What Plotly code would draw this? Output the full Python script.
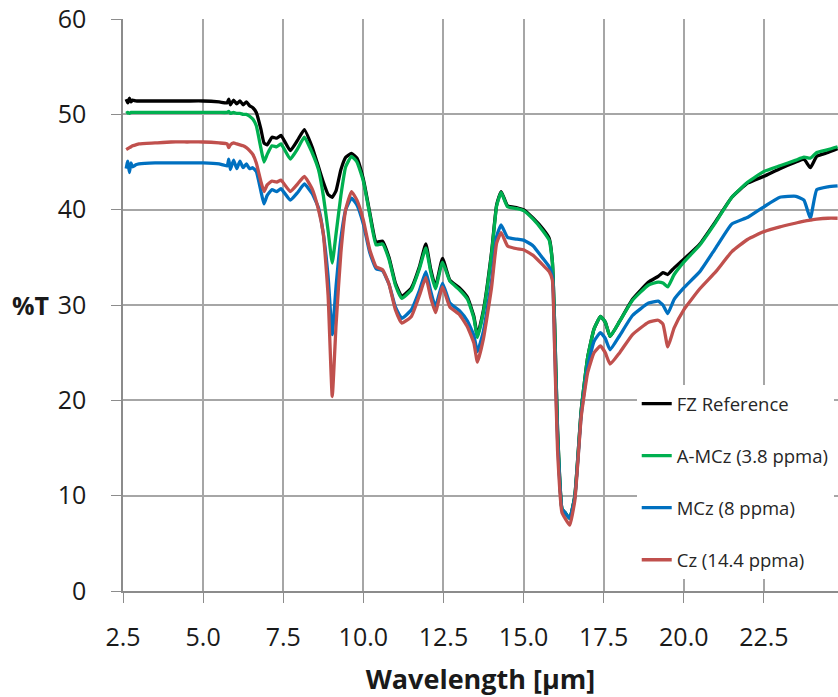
import plotly.graph_objects as go

wavelength = [2.6, 2.65, 2.7, 2.75, 2.8, 2.9, 3.0, 3.5, 4.0, 4.5, 5.0, 5.5, 5.75, 5.8, 5.85, 5.95,
              6.05, 6.15, 6.25, 6.35, 6.45, 6.55, 6.66, 6.8, 6.9, 7.0, 7.15, 7.3, 7.43, 7.72, 7.95,
              8.16, 8.4, 8.6, 8.75, 8.9, 9.03, 9.15, 9.3, 9.45, 9.63, 9.8, 10.0, 10.2, 10.4, 10.6,
              10.8, 11.0, 11.2, 11.5, 11.75, 11.95, 12.1, 12.25, 12.47, 12.7, 13.0, 13.25, 13.45,
              13.56, 13.75, 14.0, 14.16, 14.3, 14.5, 14.8, 15.0, 15.3, 15.6, 15.8, 15.9, 15.97,
              16.06, 16.2, 16.3, 16.44, 16.6, 16.8, 17.0, 17.2, 17.4, 17.55, 17.7, 18.0, 18.4,
              18.9, 19.2, 19.35, 19.5, 19.7, 20.0, 20.5, 21.0, 21.5, 22.0, 22.5, 23.0, 23.5,
              23.75, 23.95, 24.15, 24.5, 24.8]

fz_reference = [51.6, 51.2, 51.7, 51.3, 51.5, 51.4, 51.4, 51.4, 51.4, 51.4, 51.4, 51.3, 51.2, 51.6,
                51.0, 51.5, 51.1, 51.4, 51.0, 51.3, 50.9, 50.7, 50.2, 48.5, 47.0, 46.8, 47.6, 47.5,
                47.8, 46.2, 47.3, 48.4, 46.6, 44.5, 42.9, 41.6, 41.3, 42.0, 44.2, 45.5, 45.9, 45.4,
                43.2, 39.7, 36.6, 36.7, 35.0, 32.3, 30.9, 31.8, 34.0, 36.4, 33.8, 31.9, 34.9, 32.6,
                31.8, 30.8, 28.8, 26.8, 29.5, 35.5, 40.5, 41.9, 40.4, 40.2, 40.0, 39.1, 38.0, 37.0,
                34.5, 28.0, 17.0, 8.6, 8.2, 7.6, 10.0, 19.0, 24.5, 27.5, 28.8, 28.2, 26.7, 28.3,
                30.6, 32.4, 33.0, 33.4, 33.2, 33.9, 34.8, 36.4, 38.8, 41.3, 42.8, 43.5, 44.3, 45.0,
                45.3, 44.4, 45.6, 46.0, 46.4]

amcz = [50.1, 50.2, 50.1, 50.2, 50.2, 50.2, 50.2, 50.2, 50.2, 50.2, 50.2, 50.2, 50.2, 50.3, 50.1,
        50.2, 50.1, 50.1, 50.0, 50.0, 49.8, 49.5, 48.8, 46.5, 45.0, 45.8, 46.7, 46.6, 46.9, 45.3,
        46.4, 47.6, 46.0, 44.2, 41.5, 37.8, 34.4, 37.5, 41.5, 44.5, 45.6, 45.0, 43.0, 39.5, 36.3,
        36.4, 34.8, 32.1, 30.7, 31.6, 33.8, 36.0, 33.5, 31.7, 34.5, 32.5, 31.6, 30.6, 28.6, 26.6,
        29.3, 35.3, 40.4, 41.8, 40.3, 40.1, 39.9, 39.0, 37.8, 36.8, 34.5, 28.0, 17.0, 8.6, 8.2,
        7.6, 10.0, 19.0, 24.5, 27.5, 28.8, 28.2, 26.7, 28.3, 30.5, 32.1, 32.4, 32.3, 31.9, 33.2,
        34.5, 36.3, 38.7, 41.3, 42.9, 44.0, 44.6, 45.2, 45.5, 45.4, 46.0, 46.3, 46.6]

mcz = [44.3, 45.1, 43.9, 44.9, 44.5, 44.7, 44.8, 44.9, 44.9, 44.9, 44.9, 44.8, 44.6, 45.3, 44.2,
       45.2, 44.3, 45.1, 44.4, 44.8, 44.3, 44.4, 44.0, 42.0, 40.6, 41.5, 42.1, 41.9, 42.2, 41.0,
       41.8, 42.7, 41.7, 40.2, 37.5, 33.0, 26.9, 32.0, 37.0, 40.0, 41.2, 40.5, 38.5, 35.5, 33.8,
       33.6, 32.2, 29.8, 28.6, 29.5, 31.5, 33.5, 31.5, 29.8, 32.3, 30.2, 29.4, 28.3, 26.8, 25.1,
       27.3, 32.5, 37.2, 38.4, 37.1, 36.9, 36.8, 36.2, 34.9, 34.0, 33.0, 26.0, 16.0, 8.6, 8.2,
       7.6, 9.8, 18.5, 23.5, 26.2, 27.1, 26.5, 25.3, 26.8, 28.9, 30.2, 30.4, 30.0, 29.1, 30.6,
       31.8, 33.5, 36.0, 38.5, 39.2, 40.3, 41.3, 41.4, 41.0, 39.1, 42.1, 42.4, 42.5]

cz = [46.3, 46.4, 46.5, 46.6, 46.7, 46.8, 46.9, 47.0, 47.1, 47.1, 47.1, 47.0, 46.9, 46.5, 46.8,
      47.0, 46.9, 46.8, 46.7, 46.5, 46.2, 45.8, 44.9, 43.0, 41.9, 42.6, 43.0, 42.9, 43.1, 41.9,
      42.7, 43.5, 42.2, 40.0, 37.5, 31.0, 20.4, 28.0, 35.5, 40.0, 41.9, 41.0, 38.9, 35.8, 34.0,
      33.7, 32.2, 29.5, 28.1, 28.8, 31.0, 32.9, 30.8, 29.2, 31.9, 29.8, 29.0, 27.7, 26.0, 24.0,
      26.5, 31.8, 36.5, 37.6, 36.2, 35.9, 35.8, 35.2, 34.2, 33.5, 32.6, 25.3, 14.8, 8.2, 7.6,
      6.9, 9.5, 18.3, 22.9, 25.0, 25.7, 25.0, 23.8, 25.0, 26.9, 28.2, 28.4, 28.0, 25.6, 27.6,
      29.5, 31.7, 33.5, 35.6, 36.9, 37.7, 38.2, 38.6, 38.8, 38.9, 39.0, 39.1, 39.1]

series_names = ["FZ Reference", "A-MCz (3.8 ppma)", "MCz (8 ppma)", "Cz (14.4 ppma)"]
series_values = [fz_reference, amcz, mcz, cz]
series_colors = ["#000000", "#00B050", "#0070C0", "#C0504D"]

fig = go.Figure()
for i, (name, vals, col) in enumerate(zip(series_names, series_values, series_colors)):
    fig.add_trace(go.Scatter(
        x=wavelength, y=vals, mode="lines", name=name, legendgroup=f"g{i}",
        line=dict(color=col, width=3.3, shape="spline", smoothing=0.4),
    ))

font_family = "Open Sans, Liberation Sans, sans-serif"

fig.update_layout(
    width=838, height=697,
    margin=dict(l=123, r=0, t=19, b=106),
    paper_bgcolor="white", plot_bgcolor="white",
    font=dict(family=font_family, color="#1a1a1a"),
    showlegend=True,
    legend=dict(
        x=0.7185, y=0.36, xanchor="left", yanchor="top",
        bgcolor="white", borderwidth=0,
        font=dict(size=18.5, color="#262626", family=font_family),
        tracegroupgap=25, itemwidth=30,
    ),
    xaxis=dict(
        range=[2.5, 2.5 + (838 - 124) / 32.0],
        tick0=2.5, dtick=2.5, tickformat=".1f",
        showgrid=True, gridcolor="#A6A6A6", gridwidth=1.5,
        showline=True, linecolor="#8C8C8C", linewidth=2,
        ticks="outside", ticklen=10, tickcolor="#8C8C8C", tickwidth=1,
        tickfont=dict(size=25, color="#1a1a1a"),
        ticklabelstandoff=13,
        zeroline=False,
        title=dict(text="<b>Wavelength [µm]</b>", font=dict(size=27, color="#1a1a1a"), standoff=20),
    ),
    yaxis=dict(
        range=[0, 60], dtick=10,
        showgrid=True, gridcolor="#A6A6A6", gridwidth=1.5,
        showline=True, linecolor="#8C8C8C", linewidth=1.5,
        ticks="outside", ticklen=10, tickcolor="#8C8C8C", tickwidth=1,
        tickfont=dict(size=25, color="#1a1a1a"),
        ticklabelstandoff=20,
        zeroline=False,
    ),
    annotations=[dict(
        text="<b>%T</b>", xref="paper", yref="y", x=(51 - 123) / 715.0, y=30,
        xanchor="right", yanchor="middle", showarrow=False,
        font=dict(size=25, color="#1a1a1a"),
    )],
)

fig.write_html("out.html")
